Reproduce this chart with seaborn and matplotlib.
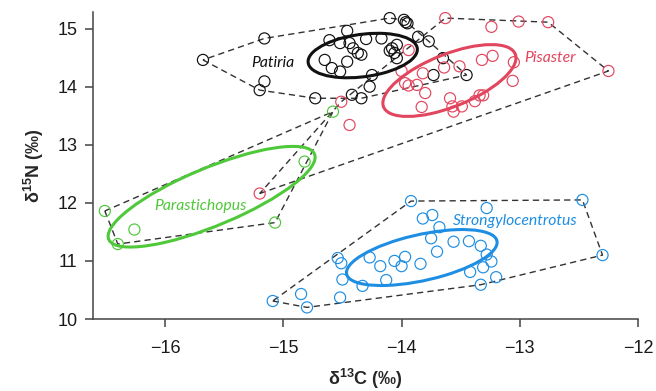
import numpy as np
import pandas as pd
import matplotlib
matplotlib.use("Agg")
import matplotlib.pyplot as plt
import seaborn as sns
from matplotlib.patches import Ellipse

# ---- data (delta13C, delta15N) ----
patiria_x = [-15.68, -15.16, -15.16, -15.20, -14.73, -14.46, -14.10, -13.98, -13.965, -13.95,
             -14.61, -14.52, -14.44, -14.41, -14.37, -14.34, -14.30, -14.17, -14.08, -14.04,
             -14.10, -14.06, -14.04, -14.65, -14.59, -14.52, -14.46, -14.25, -14.27, -14.42,
             -14.34, -13.86, -13.77, -13.65, -13.73, -13.45]
patiria_y = [14.46, 14.83, 14.09, 13.94, 13.80, 14.96, 15.18, 15.15, 15.11, 15.09,
             14.80, 14.75, 14.75, 14.66, 14.58, 14.55, 14.82, 14.83, 14.66, 14.72,
             14.62, 14.58, 14.49, 14.46, 14.32, 14.26, 14.43, 14.20, 14.00, 13.86,
             13.80, 14.86, 14.78, 14.49, 14.20, 14.20]

pisaster_x = [-13.63, -13.24, -13.01, -12.76, -12.25, -13.94, -13.32, -13.23, -13.05, -13.06,
              -14.00, -13.82, -13.64, -13.51, -13.97, -13.94, -13.87, -13.80, -13.59, -13.83,
              -13.57, -13.56, -13.49, -13.38, -13.34, -13.31, -14.44, -14.51, -15.20]
pisaster_y = [15.18, 15.03, 15.12, 15.11, 14.27, 14.63, 14.46, 14.53, 14.42, 14.10,
              14.27, 14.23, 14.33, 14.35, 14.06, 14.02, 14.03, 13.89, 13.80, 13.65,
              13.66, 13.57, 13.66, 13.75, 13.85, 13.85, 13.34, 13.74, 12.16]

parast_x = [-16.51, -16.40, -16.26, -15.07, -14.82, -14.58]
parast_y = [11.86, 11.29, 11.54, 11.66, 12.71, 13.57]

strongy_x = [-13.92, -13.82, -13.74, -13.75, -14.54, -14.51, -14.27, -14.18, -14.06, -13.97,
             -14.00, -13.84, -13.70, -14.50, -14.13, -14.33, -14.85, -14.52, -15.09, -14.80,
             -12.47, -12.30, -13.28, -13.68, -13.56, -13.43, -13.33, -13.28, -13.24, -13.31,
             -13.42, -13.20, -13.33]
strongy_y = [12.03, 11.73, 11.79, 11.39, 11.05, 10.96, 11.06, 10.91, 11.00, 11.07,
             10.91, 10.95, 11.16, 10.68, 10.67, 10.57, 10.43, 10.37, 10.31, 10.20,
             12.05, 11.10, 11.91, 11.58, 11.33, 11.34, 11.26, 11.11, 10.99, 10.89,
             10.81, 10.72, 10.59]

species = ["Patiria", "Pisaster", "Parastichopus", "Strongylocentrotus"]
xs = [patiria_x, pisaster_x, parast_x, strongy_x]
ys = [patiria_y, pisaster_y, parast_y, strongy_y]
colors = ["#111111", "#E2465E", "#4FC83A", "#1E8EE3"]
label_pos = [(-15.085, 14.415), (-12.746, 14.50), (-15.70, 11.944), (-13.04, 11.692)]

x_ticks = [-16, -15, -14, -13, -12]
y_ticks = [10, 11, 12, 13, 14, 15]

sns.set_theme(style="ticks")
plt.rcParams["font.family"] = ["Liberation Sans", "DejaVu Sans"]
plt.rcParams["mathtext.fontset"] = "custom"
plt.rcParams["mathtext.bf"] = "Liberation Sans:bold"
plt.rcParams["mathtext.rm"] = "Liberation Sans:bold"

fig = plt.figure(figsize=(6.56, 3.91), dpi=100)
ax = fig.add_axes([93 / 656, 1 - 319 / 391, (638 - 93) / 656, (319 - 12) / 391])


def convex_hull(pts):
    pts = sorted(set(map(tuple, pts)))
    def cross(o, a, b):
        return (a[0] - o[0]) * (b[1] - o[1]) - (a[1] - o[1]) * (b[0] - o[0])
    lower, upper = [], []
    for p in pts:
        while len(lower) >= 2 and cross(lower[-2], lower[-1], p) <= 0:
            lower.pop()
        lower.append(p)
    for p in reversed(pts):
        while len(upper) >= 2 and cross(upper[-2], upper[-1], p) <= 0:
            upper.pop()
        upper.append(p)
    return np.array(lower[:-1] + upper[:-1])


for sp, x, y, c, (lx, ly) in zip(species, xs, ys, colors, label_pos):
    df = pd.DataFrame({"d13C": x, "d15N": y})
    # convex hull (dashed)
    h = convex_hull(np.column_stack([x, y]))
    h = np.vstack([h, h[:1]])
    ax.plot(h[:, 0], h[:, 1], color="#333333", lw=1.0, dashes=(4.5, 3.0), zorder=2)
    # points
    sns.scatterplot(data=df, x="d13C", y="d15N", ax=ax, marker="o", s=64,
                    facecolors="none", edgecolor=c, linewidth=0.85, zorder=3)
    # standard ellipse (SEA)
    cov = np.cov(np.array(x), np.array(y))
    vals, vecs = np.linalg.eigh(cov)
    ang = np.degrees(np.arctan2(vecs[1, 1], vecs[0, 1]))
    ell = Ellipse((np.mean(x), np.mean(y)), 2 * np.sqrt(vals[1]), 2 * np.sqrt(vals[0]),
                  angle=ang, facecolor="none", edgecolor=c, lw=2.2, zorder=4)
    ax.add_patch(ell)
    ax.text(lx, ly, sp, color=c, fontsize=11.3, style="italic", family=["Lato", "DejaVu Sans"],
            ha="center", va="center", zorder=5)

ax.set_xlim(-16.61, -12.0)
ax.set_ylim(10.0, 15.285)
ax.set_xticks(x_ticks)
ax.set_yticks(y_ticks)
ax.set_xticklabels([f"\u2212{abs(v)}" for v in x_ticks])
ax.set_yticklabels([str(v) for v in y_ticks])
sns.despine(ax=ax)
for s in ["left", "bottom"]:
    ax.spines[s].set_color("#444444")
    ax.spines[s].set_linewidth(1.1)
ax.tick_params(axis="both", direction="out", length=6, width=1.1, color="#444444",
               labelsize=13, labelcolor="#1a1a1a")
ax.tick_params(axis="x", pad=9)
ax.tick_params(axis="y", pad=5)
ax.set_xlabel(r"δ$\mathbf{^{13}}$C (‰)", fontsize=13, fontweight="bold", labelpad=7)
ax.set_ylabel(r"δ$\mathbf{^{15}}$N (‰)", fontsize=13, fontweight="bold", labelpad=8)

fig.savefig("out.png", dpi=100)
